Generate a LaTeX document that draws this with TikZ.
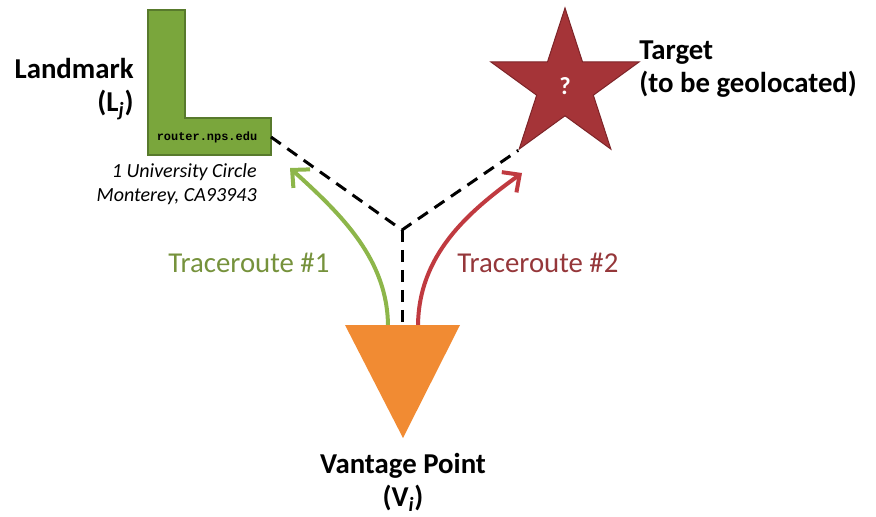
\documentclass[tikz,border=0pt]{standalone}
\usepackage{fontspec}
\setmainfont{Carlito}
\setmonofont{Liberation Mono}
\usepackage{tikz}
\usetikzlibrary{positioning,shapes.geometric,arrows.meta}
\definecolor{lmGreen}{RGB}{122,166,60}
\definecolor{lmEdge}{RGB}{88,122,44}
\definecolor{trOneCol}{RGB}{141,182,74}
\definecolor{trOneTxt}{RGB}{118,146,60}
\definecolor{tgRed}{RGB}{165,52,56}
\definecolor{tgEdge}{RGB}{125,36,40}
\definecolor{trTwoCol}{RGB}{192,58,64}
\definecolor{trTwoTxt}{RGB}{149,55,58}
\definecolor{vpOrange}{RGB}{241,139,51}
\tikzset{myLabel/.style={font=\fontsize{16.4}{19}\selectfont\bfseries, inner sep=0pt}}
\tikzset{myDash/.style={line width=0.06cm, dash pattern=on 0.24cm off 0.16cm, black}}
\tikzset{myRoute/.style={line width=0.08cm, -{Straight Barb[length=0.26cm,width=0.5cm]}}}

\begin{document}
\begin{tikzpicture}[x=0.02cm,y=-0.02cm]
	\useasboundingbox (0,0) rectangle (876,517);
	%landmark
	\draw[lmEdge, fill=lmGreen, line width=0.03cm] (148,10)--(185,10)--(185,118)--(271,118)--(271,155)--(148,155)--cycle;
	\node[font=\ttfamily\bfseries\fontsize{6.8}{8}\selectfont, inner sep=0pt] (lmHost) at (207,137) {router.nps.edu};
	\coordinate (lmCorner) at (271,137);
	\node[myLabel, align=right, anchor=north east] (lmLabel) at (134,58) {Landmark\\(L\textsubscript{\itshape j})};
	\node[font=\itshape\fontsize{11.4}{13.6}\selectfont, align=right, anchor=north east, inner sep=0pt] (lmAddr) at (257,163) {1 University Circle\\Monterey, CA93943};

	%target
	\node[star, star points=5, star point ratio=2.618, minimum size=3.12cm, inner sep=0pt, fill=tgRed, draw=tgEdge, line width=0.02cm, text=white, font=\fontsize{14}{16}\selectfont\bfseries] (target) at (565,86) {?};
	\node[myLabel, align=left, anchor=north west] (tgLabel) at (639,40) {Target\\(to be geolocated)};

	%paths
	\coordinate (junc) at (402,230);
	\coordinate (vpTop) at (402,325);
	\draw[myDash] (lmCorner) -- (junc) -- (target.outer point 3);
	\draw[myDash] (junc) -- (vpTop);

	\coordinate (vpLeft) at (388,327);
	\coordinate (vpRight) at (418,327);
	\coordinate (lmTip) at (290,168);
	\coordinate (tgTip) at (522,173);
	\draw[myRoute, trOneCol] (vpLeft) .. controls (388,260) and (342,215) .. (lmTip);
	\draw[myRoute, trTwoCol] (vpRight) .. controls (418,255) and (468,212) .. (tgTip);
	\node[font=\fontsize{16.4}{19}\selectfont, text=trOneTxt, inner sep=0pt, anchor=base west] (trOne) at (168,272) {Traceroute \#1};
	\node[font=\fontsize{16.4}{19}\selectfont, text=trTwoTxt, inner sep=0pt, anchor=base west] (trTwo) at (457,272) {Traceroute \#2};

	%vantage point
	\fill[vpOrange] (345,325) -- (460,325) -- (403,438) -- cycle;
	\node[myLabel, align=center, anchor=north] (vpLabel) at (403,453) {Vantage Point\\(V\textsubscript{\itshape i})};
\end{tikzpicture}
\end{document}
